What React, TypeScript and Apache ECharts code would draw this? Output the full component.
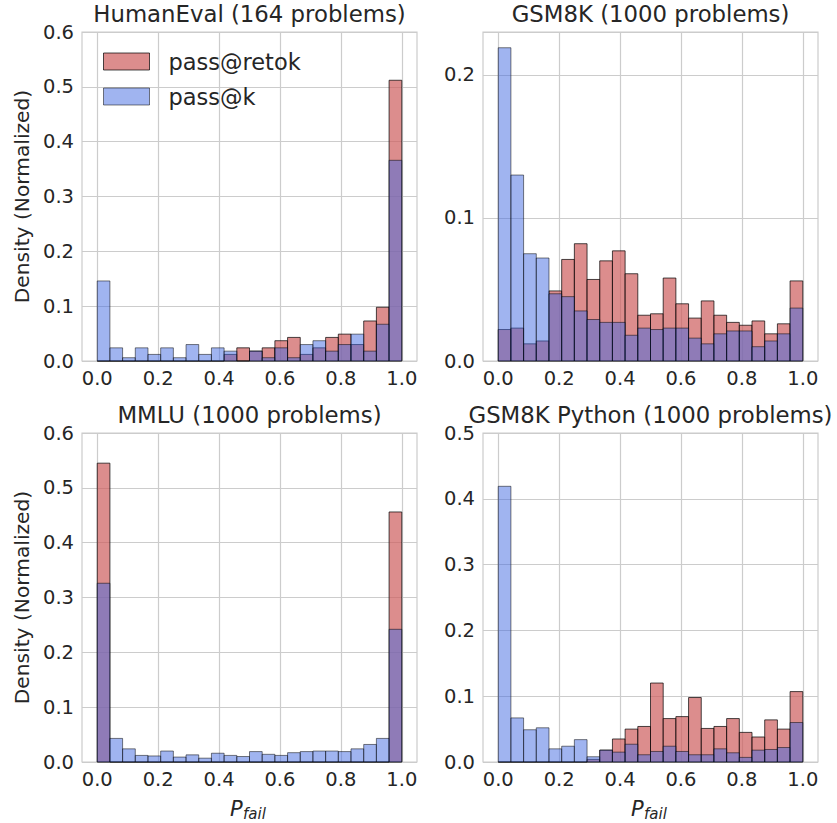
import React, { useEffect, useRef } from "react";
import * as echarts from "echarts";

// ---------- data (24 bins from 0 to 1) ----------
const BIN_COUNT = 24;
const xTickValues = [0, 0.2, 0.4, 0.6, 0.8, 1.0];

const seriesNames = ["pass@retok", "pass@k"];

const humanEvalRetok = [0, 0, 0, 0, 0, 0, 0, 0, 0, 0, 0.012, 0.024, 0.018, 0.024, 0.037, 0.043, 0.012, 0.024, 0.043, 0.049, 0.030, 0.073, 0.098, 0.512];
const humanEvalK = [0.146, 0.024, 0.006, 0.024, 0.012, 0.024, 0.006, 0.030, 0.012, 0.024, 0.018, 0, 0.018, 0.006, 0.024, 0.006, 0.030, 0.037, 0.018, 0.030, 0.049, 0.018, 0.067, 0.366];

const gsm8kRetok = [0.022, 0.023, 0.012, 0.014, 0.049, 0.071, 0.082, 0.057, 0.070, 0.077, 0.061, 0.032, 0.033, 0.058, 0.040, 0.030, 0.042, 0.032, 0.027, 0.025, 0.028, 0.019, 0.026, 0.056];
const gsm8kK = [0.219, 0.130, 0.075, 0.072, 0.047, 0.045, 0.035, 0.029, 0.027, 0.027, 0.018, 0.023, 0.022, 0.023, 0.023, 0.016, 0.012, 0.019, 0.021, 0.021, 0.010, 0.014, 0.019, 0.037];

const mmluRetok = [0.545, 0, 0, 0, 0, 0, 0, 0, 0, 0, 0, 0, 0, 0, 0, 0, 0, 0, 0, 0, 0, 0, 0, 0.456];
const mmluK = [0.326, 0.043, 0.024, 0.012, 0.011, 0.020, 0.009, 0.013, 0.007, 0.016, 0.012, 0.010, 0.019, 0.014, 0.012, 0.017, 0.019, 0.020, 0.020, 0.019, 0.024, 0.032, 0.043, 0.242];

const gsm8kPyRetok = [0, 0, 0, 0, 0, 0, 0, 0.004, 0.018, 0.035, 0.050, 0.054, 0.120, 0.066, 0.069, 0.098, 0.051, 0.054, 0.066, 0.045, 0.038, 0.064, 0.050, 0.107];
const gsm8kPyK = [0.419, 0.067, 0.049, 0.052, 0.020, 0.024, 0.034, 0.008, 0.018, 0.015, 0.027, 0.011, 0.016, 0.024, 0.016, 0.011, 0.011, 0.020, 0.014, 0.007, 0.018, 0.019, 0.022, 0.060];

const titles = ["HumanEval (164 problems)", "GSM8K (1000 problems)", "MMLU (1000 problems)", "GSM8K Python (1000 problems)"];
const yMaxes = [0.6, 0.23, 0.6, 0.5];

// ---------- styling ----------
const FONT = "DejaVu Sans";
const TEXT = "#262626";
const GRIDC = "#cccccc";
const RED_FILL = "rgba(205,92,92,0.7)";
const RED_EDGE = "rgba(0,0,0,0.7)";
const BLUE_FILL = "rgba(65,105,225,0.5)";
const BLUE_EDGE = "rgba(0,0,0,0.5)";

const GRID_W = 335;
const GRID_H = 329;
const gridPos = [
  { left: 82, top: 32 },
  { left: 483, top: 32 },
  { left: 82, top: 433 },
  { left: 483, top: 433 },
];

const panelData = [
  [humanEvalRetok, humanEvalK],
  [gsm8kRetok, gsm8kK],
  [mmluRetok, mmluK],
  [gsm8kPyRetok, gsm8kPyK],
];

function toBins(values: number[]) {
  return values.map((v, i) => [i / BIN_COUNT, (i + 1) / BIN_COUNT, v]);
}

function makeRender(fill: string, stroke: string) {
  return (params: any, api: any) => {
    const x0 = api.value(0);
    const x1 = api.value(1);
    const y = api.value(2);
    const p0 = api.coord([x0, y]);
    const p1 = api.coord([x1, 0]);
    return {
      type: "rect",
      shape: { x: p0[0], y: p0[1], width: p1[0] - p0[0], height: p1[1] - p0[1] },
      style: { fill, stroke, lineWidth: 1 },
    };
  };
}

export default function App() {
  const ref = useRef<HTMLDivElement>(null);

  useEffect(() => {
    if (!ref.current) return;
    const chart = echarts.init(ref.current, undefined, { renderer: "svg" });

    const grids = gridPos.map((g) => ({
      left: g.left,
      top: g.top,
      width: GRID_W,
      height: GRID_H,
      show: true,
      borderColor: GRIDC,
      borderWidth: 1.2,
      backgroundColor: "transparent",
      containLabel: false,
    }));

    const xAxes = gridPos.map((_, i) => ({
      type: "value",
      gridIndex: i,
      min: -0.05,
      max: 1.05,
      axisLine: { show: false },
      axisTick: { show: false, customValues: xTickValues },
      axisLabel: {
        customValues: xTickValues,
        formatter: (v: number) => v.toFixed(1),
        fontFamily: FONT,
        fontSize: 19.5,
        color: TEXT,
        margin: 7,
      },
      splitLine: { show: true, lineStyle: { color: GRIDC, width: 1.2 } },
    }));

    const yAxes = gridPos.map((_, i) => ({
      type: "value",
      gridIndex: i,
      min: 0,
      max: yMaxes[i],
      interval: 0.1,
      axisLine: { show: false },
      axisTick: { show: false },
      axisLabel: {
        formatter: (v: number) =>
          Math.abs(v * 10 - Math.round(v * 10)) < 1e-6 ? v.toFixed(1) : "",
        fontFamily: FONT,
        fontSize: 19.5,
        color: TEXT,
        margin: 8,
      },
      splitLine: { show: true, lineStyle: { color: GRIDC, width: 1.2 } },
    }));

    const series: any[] = [];
    panelData.forEach(([retok, k], i) => {
      series.push({
        type: "custom",
        name: seriesNames[0],
        xAxisIndex: i,
        yAxisIndex: i,
        data: toBins(retok),
        encode: { x: [0, 1], y: 2 },
        renderItem: makeRender(RED_FILL, RED_EDGE),
        itemStyle: { color: RED_FILL, borderColor: RED_EDGE, borderWidth: 1 },
        z: 2,
      });
      series.push({
        type: "custom",
        name: seriesNames[1],
        xAxisIndex: i,
        yAxisIndex: i,
        data: toBins(k),
        encode: { x: [0, 1], y: 2 },
        renderItem: makeRender(BLUE_FILL, BLUE_EDGE),
        itemStyle: { color: BLUE_FILL, borderColor: BLUE_EDGE, borderWidth: 1 },
        z: 3,
      });
    });

    const graphics: any[] = [];
    gridPos.forEach((g, i) => {
      graphics.push({
        type: "text",
        x: g.left + GRID_W / 2,
        y: g.top - 18,
        style: {
          text: titles[i],
          font: `22.8px '${FONT}'`,
          fill: TEXT,
          align: "center",
          verticalAlign: "middle",
        },
      });
    });
    [0, 2].forEach((i) => {
      const g = gridPos[i];
      graphics.push({
        type: "text",
        x: 22,
        y: g.top + GRID_H / 2,
        rotation: Math.PI / 2,
        style: {
          text: "Density (Normalized)",
          font: `20.2px '${FONT}'`,
          fill: TEXT,
          align: "center",
          verticalAlign: "middle",
        },
      });
    });
    [2, 3].forEach((i) => {
      const g = gridPos[i];
      const cx = g.left + GRID_W / 2;
      graphics.push({
        type: "text",
        x: cx - 19.5,
        y: 809,
        style: {
          text: "P",
          font: `italic 21px '${FONT}'`,
          fill: TEXT,
          align: "left",
          verticalAlign: "middle",
        },
      });
      graphics.push({
        type: "text",
        x: cx - 6.5,
        y: 814,
        style: {
          text: "fail",
          font: `italic 15px '${FONT}'`,
          fill: TEXT,
          align: "left",
          verticalAlign: "middle",
        },
      });
    });

    chart.setOption({
      animation: false,
      backgroundColor: "#ffffff",
      grid: grids,
      xAxis: xAxes,
      yAxis: yAxes,
      series,
      legend: {
        left: 103,
        top: 50,
        orient: "vertical",
        itemWidth: 46,
        itemHeight: 17,
        itemGap: 12,
        icon: "rect",
        padding: 0,
        selectedMode: false,
        textStyle: { fontFamily: FONT, fontSize: 22.5, color: TEXT, padding: [0, 0, 0, 14] },
        data: [
          { name: seriesNames[0], icon: "rect", itemStyle: { color: RED_FILL, borderColor: RED_EDGE, borderWidth: 1 } },
          { name: seriesNames[1], icon: "rect", itemStyle: { color: BLUE_FILL, borderColor: BLUE_EDGE, borderWidth: 1 } },
        ],
      },
      graphic: graphics,
    });

    return () => chart.dispose();
  }, []);

  return (
    <div
      ref={ref}
      style={{ position: "fixed", left: 0, top: 0, width: 837, height: 823, background: "#fff" }}
    />
  );
}
